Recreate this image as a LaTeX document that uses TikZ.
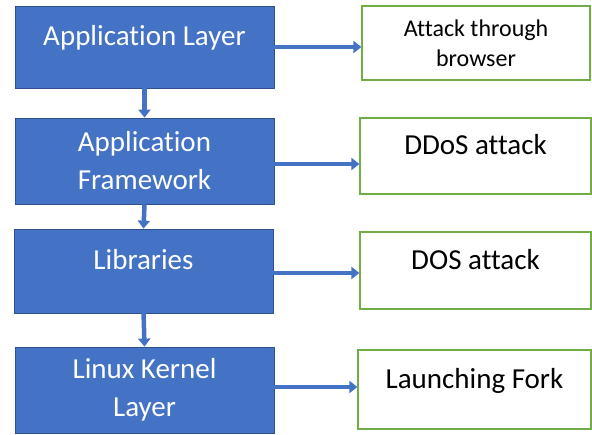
\documentclass[tikz,border=0pt]{standalone}
\usepackage{fontspec}
\setmainfont{Carlito}[Ligatures=NoCommon]
\usetikzlibrary{arrows.meta}
\definecolor{layerblue}{HTML}{4472C4}
\definecolor{layeredge}{HTML}{2F528F}
\definecolor{attackgreen}{HTML}{70AD47}
\begin{document}
\begin{tikzpicture}[x=1pt,y=-1pt]
				\tikzset{layer/.style={draw=layeredge,fill=layerblue,text=white,line width=0.8pt,minimum width=259pt,align=center,inner sep=0pt,font=\fontsize{29}{38}\selectfont}}
				\tikzset{attack/.style={draw=attackgreen,fill=white,text=black,line width=1.2pt,align=center,inner sep=0pt,font=\fontsize{29}{37}\selectfont}}
				\tikzset{upper/.style={text height=20pt,text depth=23pt}}
				\tikzset{flow/.style={layerblue,line width=4.5pt,-{Triangle[width=12pt,length=8pt]}}}
				\useasboundingbox (0,0) rectangle (592,434);
				\node [layer,upper,minimum height=82pt] (app) at (144.5,47) {Application Layer};
				\node [layer,minimum height=86pt] (fw) at (144.5,161) {Application\\Framework};
				\node [layer,upper,minimum height=84pt] (lib) at (143.5,271) {Libraries};
				\node [layer,minimum height=86pt] (ker) at (144.5,390) {Linux Kernel\\Layer};
				\node [attack,minimum width=228pt,minimum height=74pt,font=\fontsize{24}{30}\selectfont] (att) at (476,43) {Attack through\\browser};
				\node [attack,upper,minimum width=231pt,minimum height=76pt] (ddos) at (475.5,156) {DDoS attack};
				\node [attack,upper,minimum width=231pt,minimum height=77pt] (dos) at (475.5,270.5) {DOS attack};
				\node [attack,upper,minimum width=233pt,minimum height=79pt] (fork) at (474.5,389.5) {Launching Fork};
				\draw [flow] (app.south) -- (fw.north);
				\draw [flow] (fw.south) -- (lib.north);
				\draw [flow] ([yshift=3pt]lib.south) -- (ker.north);
				\draw [flow] (app.east) -- (app.east -| att.west);
				\draw [flow] ([yshift=-3pt]fw.east) -- ([yshift=-3pt]fw.east -| ddos.west);
				\draw [flow] ([yshift=-2pt]lib.east) -- ([yshift=-2pt]lib.east -| dos.west);
				\draw [flow] ([xshift=-7pt,yshift=3pt]ker.east) -- ([yshift=3pt]ker.east -| fork.west);
\end{tikzpicture}
\end{document}
